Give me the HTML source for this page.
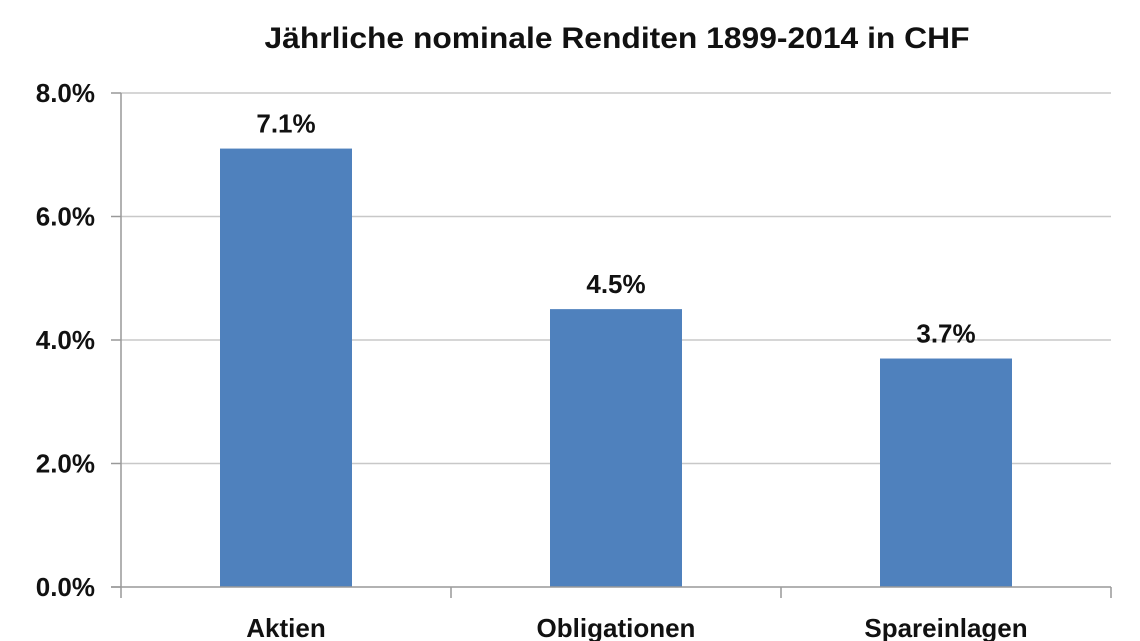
<!DOCTYPE html>
<html><head><meta charset="utf-8"><style>
html,body{margin:0;padding:0;background:#fff;}
svg{display:block;font-family:"Liberation Sans","DejaVu Sans",sans-serif;}
</style></head><body>
<svg id="chart" width="1140" height="641" viewBox="0 0 1140 641">
<text x="617" y="48" text-anchor="middle" font-size="30" font-weight="bold" fill="#111" textLength="705" lengthAdjust="spacingAndGlyphs">Jährliche nominale Renditen 1899-2014 in CHF</text>
<g id="grid"></g><g id="bars"></g><g id="axes"></g>
</svg>
<script>
const categories = ["Aktien","Obligationen","Spareinlagen"];
const values = [7.1,4.5,3.7];
const valueLabels = ["7.1%","4.5%","3.7%"];
const yTicks = [0,2,4,6,8];
const yTickLabels = ["0.0%","2.0%","4.0%","6.0%","8.0%"];
const NS="http://www.w3.org/2000/svg";
const L=121,R=1111,T=93,B=587,yMax=8;
const y=v=>B-(v/yMax)*(B-T);
const bw=(R-L)/categories.length;
const x=i=>L+bw*i;
function mk(tag,attrs,parent){const e=document.createElementNS(NS,tag);for(const k in attrs)e.setAttribute(k,attrs[k]);document.getElementById(parent).appendChild(e);return e;}
yTicks.forEach((t,i)=>{
  if(t>0){const g=mk('line',{x1:L,x2:R,y1:y(t),y2:y(t),stroke:'#c8c8c8','stroke-width':1.5},'grid');
  
  }
  const tk=mk('line',{x1:L-10,x2:L,y1:y(t),y2:y(t),stroke:'#999','stroke-width':1.5},'axes');
  
  
  const lb=mk('text',{x:L-26,y:y(t)+9,'text-anchor':'end','font-size':26,'font-weight':'bold',fill:'#111'},'axes');
  lb.textContent=yTickLabels[i];
  
  
});
categories.forEach((c,i)=>{
  const cx=x(i)+bw/2, w=bw*0.4;
  const r=mk('rect',{x:cx-w/2,y:y(values[i]),width:w,height:B-y(values[i]),fill:'#4f81bd'},'bars');
  
  
  const v=mk('text',{x:cx,y:y(values[i])-16,'text-anchor':'middle','font-size':26,'font-weight':'bold',fill:'#111'},'bars');
  v.textContent=valueLabels[i];
  
  
  const cl=mk('text',{x:cx,y:637,'text-anchor':'middle','font-size':26,'font-weight':'bold',fill:'#111'},'axes');
  cl.textContent=c;
  
  
});
for(let i=0;i<=categories.length;i++){
  const t=mk('line',{x1:x(i),x2:x(i),y1:B,y2:B+11,stroke:'#999','stroke-width':1.5},'axes');
  
  
}
const ya=mk('line',{x1:L,x2:L,y1:T,y2:B,stroke:'#999','stroke-width':1.5},'axes');


const xa=mk('line',{x1:L-10,x2:R,y1:B,y2:B,stroke:'#999','stroke-width':1.5},'axes');


</script>
</body></html>
